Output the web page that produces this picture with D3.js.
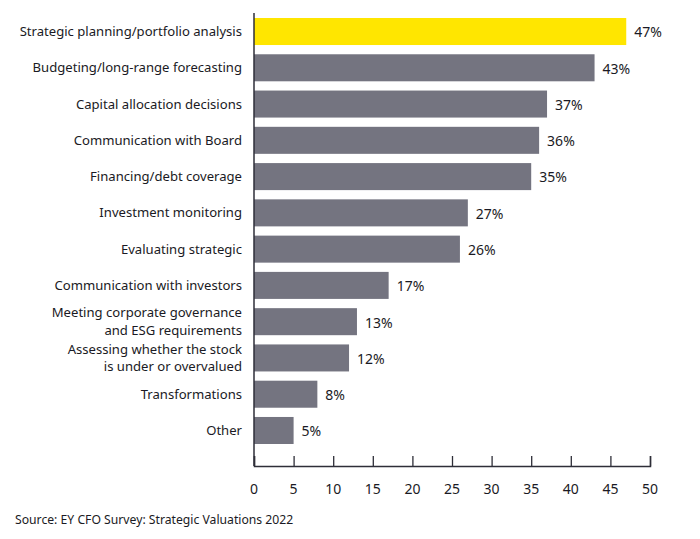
<!DOCTYPE html>
<html><head><meta charset="utf-8">
<script src="https://cdn.jsdelivr.net/npm/d3@7"></script>
<style>body{margin:0;background:#fff;} text{font-family:"Noto Sans",sans-serif;}</style>
</head><body>
<svg id="chart" width="700" height="539"></svg>
<script>
const categories = [
  ["Strategic planning/portfolio analysis"],
  ["Budgeting/long-range forecasting"],
  ["Capital allocation decisions"],
  ["Communication with Board"],
  ["Financing/debt coverage"],
  ["Investment monitoring"],
  ["Evaluating strategic"],
  ["Communication with investors"],
  ["Meeting corporate governance", "and ESG requirements"],
  ["Assessing whether the stock", "is under or overvalued"],
  ["Transformations"],
  ["Other"]
];
const values = [47, 43, 37, 36, 35, 27, 26, 17, 13, 12, 8, 5];
const xTicks = [0, 5, 10, 15, 20, 25, 30, 35, 40, 45, 50];
const highlightIndex = 0;
const source = "Source: EY CFO Survey: Strategic Valuations 2022";

const svg = d3.select("#chart");
const x = d3.scaleLinear().domain([0, 50]).range([254, 650]);
const y = d3.scaleBand().domain(d3.range(categories.length)).range([13, 449])
  .paddingInner(0.255).paddingOuter(0.138);
const axisY = 466;

// bars
svg.append("g").selectAll("rect").data(values).join("rect")
  .attr("x", x(0))
  .attr("y", (d, i) => y(i))
  .attr("width", d => x(d) - x(0))
  .attr("height", y.bandwidth())
  .attr("fill", (d, i) => i === highlightIndex ? "#FFE600" : "#747480");

// value labels
svg.append("g").selectAll("text").data(values).join("text")
  .attr("x", d => x(d) + 8)
  .attr("y", (d, i) => y(i) + y.bandwidth() / 2 + 1)
  .attr("dy", "0.35em")
  .attr("font-size", 14)
  .attr("fill", "#1a1a24")
  .text(d => d + "%");

// category labels (multi-line ones as separate text elements)
const lines = [];
categories.forEach((d, i) => {
  const n = d.length;
  const spacing = 17.6;
  d.forEach((line, k) => {
    lines.push({ i, text: line, off: (k - (n - 1) / 2) * spacing });
  });
});
svg.append("g").selectAll("text").data(lines).join("text")
  .attr("text-anchor", "end")
  .attr("font-size", 13.1)
  .attr("fill", "#1a1a24")
  .attr("x", 242)
  .attr("y", d => y(d.i) + y.bandwidth() / 2 + d.off)
  .attr("dy", "0.35em")
  .text(d => d.text);

// y axis line
svg.append("line").attr("x1", x(0)).attr("x2", x(0)).attr("y1", 13).attr("y2", axisY)
  .attr("stroke", "#2e2e38").attr("stroke-width", 1.5);

// x axis
const xAxis = d3.axisTop(x).tickValues(xTicks).tickSize(10).tickFormat("");
const gx = svg.append("g").attr("transform", `translate(0,${axisY})`).call(xAxis);
gx.select(".domain").attr("stroke", "#2e2e38").attr("stroke-width", 1.5);
gx.selectAll(".tick line").attr("stroke", "#2e2e38").attr("stroke-width", 1.3);

svg.append("g").selectAll("text").data(xTicks).join("text")
  .attr("x", d => x(d))
  .attr("y", 489)
  .attr("dy", "0.35em")
  .attr("text-anchor", "middle")
  .attr("font-size", 14)
  .attr("fill", "#1a1a24")
  .text(d => d);

svg.append("text").attr("x", 15).attr("y", 524)
  .attr("font-size", 12.2)
  .attr("fill", "#1a1a24")
  .text(source);
</script>
</body></html>
